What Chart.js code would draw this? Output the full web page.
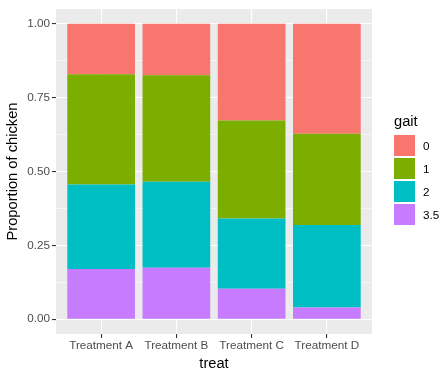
<!DOCTYPE html>
<html>
<head>
<meta charset="utf-8">
<script src="https://cdn.jsdelivr.net/npm/chart.js@4/dist/chart.umd.min.js"></script>
<style>
  body { margin: 0; background: #fff; font-family: "Liberation Sans", Arial, sans-serif; }
  #wrap { position: relative; width: 441px; height: 368px; }
  #legend { position: absolute; left: 394px; top: 113px; }
  #legend .title { font-size: 14.7px; color: #000; margin-bottom: 5px; }
  #legend .item { display: flex; align-items: center; height: 23px; }
  #legend .key { width: 21px; height: 21px; margin: 1px 0; }
  #legend .lab { font-size: 11.7px; color: #000; margin-left: 8px; }
</style>
</head>
<body>
<div id="wrap">
  <canvas id="chart" width="441" height="368"></canvas>
  <div id="legend"></div>
</div>
<script>
const treatments = ['Treatment A', 'Treatment B', 'Treatment C', 'Treatment D'];
const gaitLevels = ['0', '1', '2', '3.5'];
const gaitColors = ['#F8766D', '#7CAE00', '#00BFC4', '#C77CFF'];

// proportions per gait level, one value per treatment
const gait0 = [0.171, 0.174, 0.327, 0.372];
const gait1 = [0.373, 0.361, 0.332, 0.309];
const gait2 = [0.286, 0.291, 0.238, 0.279];
const gait35 = [0.170, 0.174, 0.103, 0.040];

const yTicks = [0, 0.125, 0.25, 0.375, 0.5, 0.625, 0.75, 0.875, 1];

const seriesValues = [gait0, gait1, gait2, gait35];

// stack from bottom: 3.5, 2, 1, 0
const datasets = [3, 2, 1, 0].map(i => ({
    label: gaitLevels[i],
    data: seriesValues[i].map((v, j) => ({ x: j + 1, y: v })),
    backgroundColor: gaitColors[i],
    borderWidth: 0,
    categoryPercentage: 1,
    barPercentage: 0.9
}));

const panelBg = {
    id: 'panelBg',
    beforeDraw(chart) {
        const { ctx, chartArea: a } = chart;
        ctx.save();
        ctx.fillStyle = '#EBEBEB';
        ctx.fillRect(a.left, a.top, a.right - a.left, a.bottom - a.top);
        ctx.restore();
    }
};

const isMajor = v => Math.abs(v * 4 - Math.round(v * 4)) < 1e-9;

new Chart(document.getElementById('chart'), {
    type: 'bar',
    data: { datasets: datasets },
    options: {
        responsive: false,
        animation: false,
        layout: { padding: { left: 0, right: 69, top: 7, bottom: 0 } },
        plugins: { legend: { display: false }, tooltip: { enabled: false } },
        scales: {
            x: {
                type: 'linear',
                stacked: true,
                offset: false,
                min: 0.4,
                max: 4.6,
                afterBuildTicks: s => { s.ticks = treatments.map((t, i) => ({ value: i + 1 })); },
                afterFit: s => { s.height = 34; },
                grid: { offset: false, color: '#FFFFFF', lineWidth: 1.1, tickLength: 4, tickColor: '#333333', tickWidth: 1.1 },
                border: { display: false },
                ticks: {
                    autoSkip: false,
                    maxRotation: 0,
                    padding: 1,
                    color: '#4D4D4D',
                    font: { family: 'Liberation Sans', size: 11.7 },
                    callback: v => treatments[v - 1]
                },
                title: {
                    display: true,
                    text: 'treat',
                    color: '#000',
                    font: { family: 'Liberation Sans', size: 14.7 },
                    padding: { top: 0, bottom: -4.5 }
                }
            },
            y: {
                stacked: true,
                min: -0.05,
                max: 1.05,
                afterBuildTicks: s => { s.ticks = yTicks.map(v => ({ value: v })); },
                afterFit: s => { s.width = 56; },
                grid: {
                    color: '#FFFFFF',
                    lineWidth: c => isMajor(c.tick.value) ? 1.1 : 0.55,
                    tickLength: 4,
                    tickColor: c => isMajor(c.tick.value) ? '#333333' : 'rgba(0,0,0,0)',
                    tickWidth: 1.1
                },
                border: { display: false },
                ticks: {
                    padding: 2,
                    color: '#4D4D4D',
                    font: { family: 'Liberation Sans', size: 11.7 },
                    callback: v => isMajor(v) ? v.toFixed(2) : ''
                },
                title: {
                    display: true,
                    text: 'Proportion of chicken',
                    color: '#000',
                    font: { family: 'Liberation Sans', size: 14.7 },
                    padding: { top: 4, bottom: 0 }
                }
            }
        }
    },
    plugins: [panelBg]
});

const legend = document.getElementById('legend');
legend.innerHTML = '<div class="title">gait</div>' + gaitLevels.map((g, i) =>
    `<div class="item"><div class="key" style="background:${gaitColors[i]}"></div><span class="lab">${g}</span></div>`
).join('');
</script>
</body>
</html>
